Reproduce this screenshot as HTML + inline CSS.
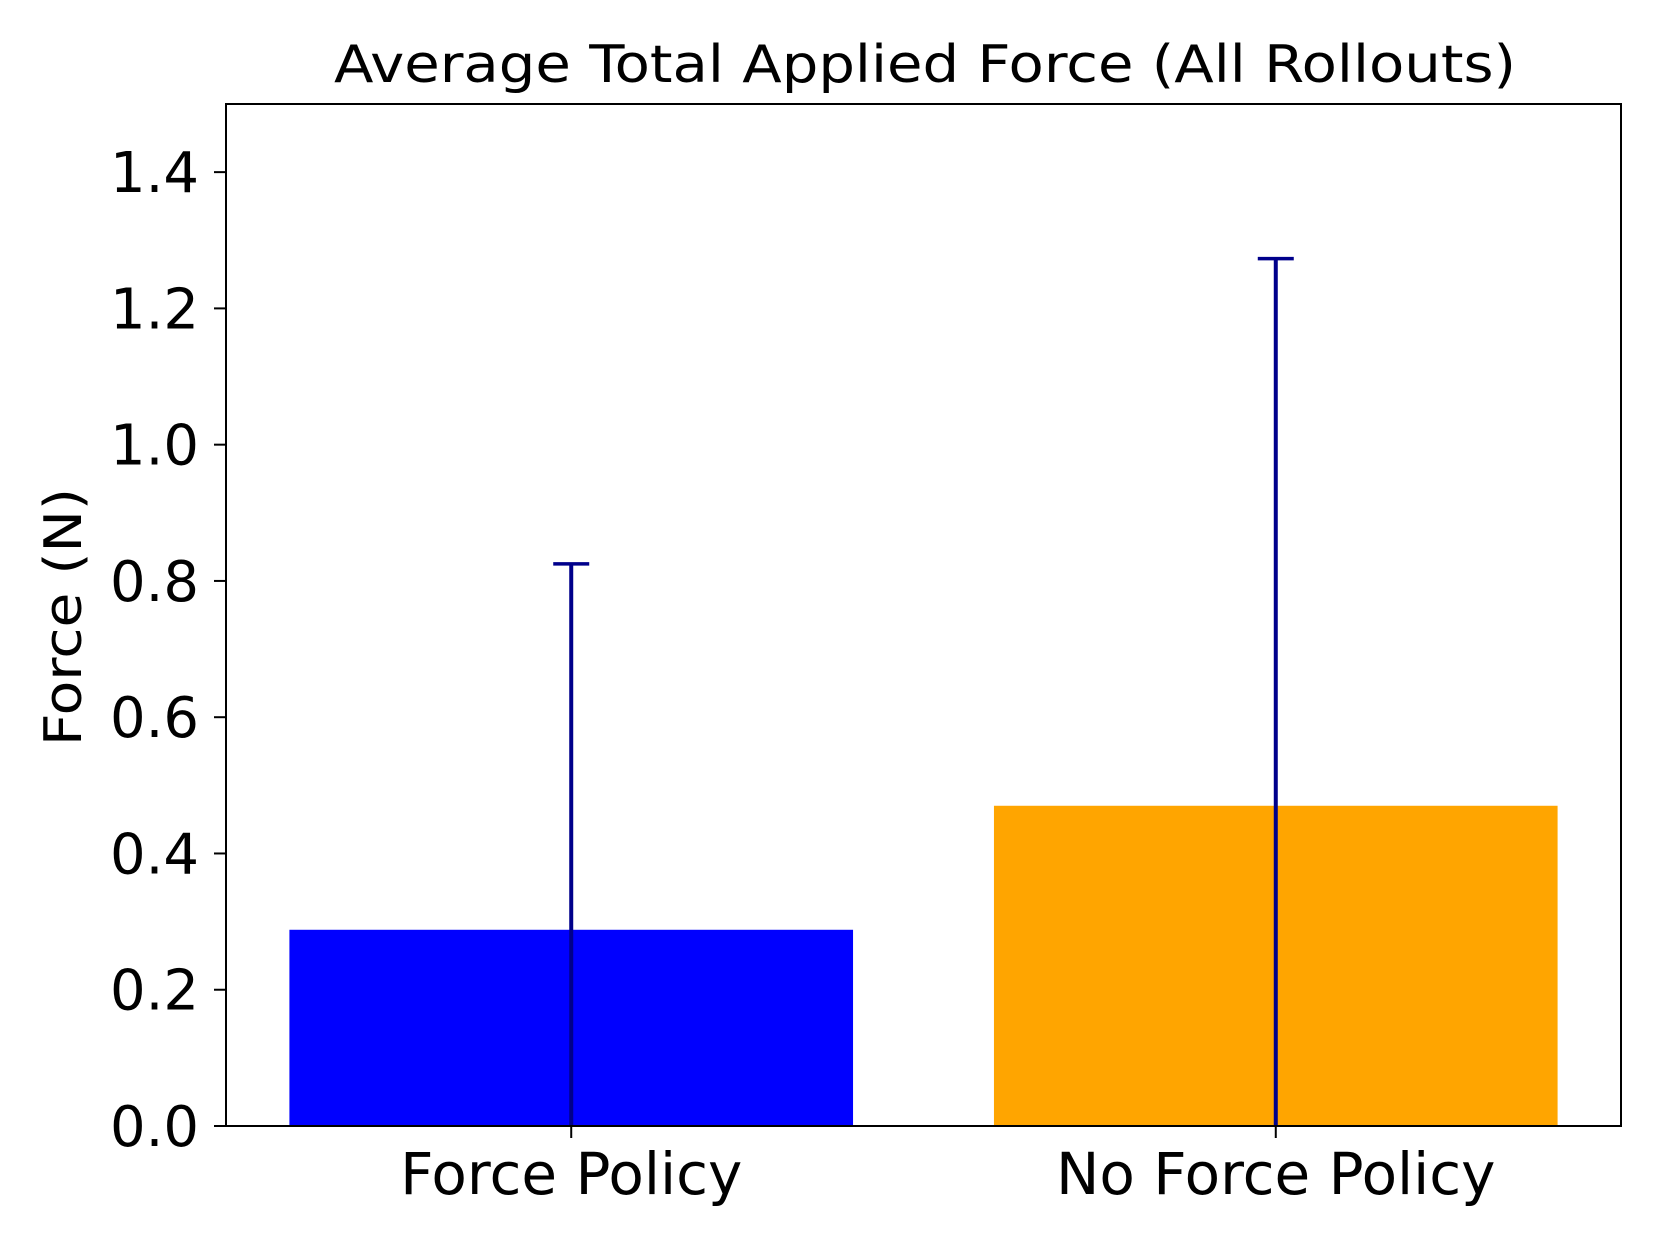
<!DOCTYPE html>
<html><head><meta charset="utf-8"><style>
html,body{margin:0;padding:0;background:#fff;}
svg{display:block;font-family:"DejaVu Sans","Liberation Sans",sans-serif;}
</style></head><body>
<svg id="chart" width="1660" height="1245" viewBox="0 0 1660 1245" xmlns="http://www.w3.org/2000/svg">
<rect width="1660" height="1245" fill="#fff"/>
<text x="925" y="82" font-size="52" text-anchor="middle" textLength="1182" lengthAdjust="spacingAndGlyphs">Average Total Applied Force (All Rollouts)</text>
<text transform="translate(81,617) rotate(-90)" font-size="52" text-anchor="middle" textLength="258" lengthAdjust="spacingAndGlyphs">Force (N)</text>
<g id="plot"></g>
<rect x="226" y="104" width="1395" height="1022" fill="none" stroke="#000" stroke-width="2"/>
</svg>
<script>
const categories = ["Force Policy", "No Force Policy"];
const values = [0.288, 0.470];
const errors = [0.537, 0.803];
const colors = ["#0000ff", "#ffa500"];
const yTicks = [0, 0.2, 0.4, 0.6, 0.8, 1.0, 1.2, 1.4];
const yTickLabels = ["0.0","0.2","0.4","0.6","0.8","1.0","1.2","1.4"];

const L=226,R=1621,T=104,B=1126;
const xMin=-0.49,xMax=1.49,yMin=0,yMax=1.5;
const xs=v=>L+(v-xMin)/(xMax-xMin)*(R-L);
const ys=v=>B-(v-yMin)/(yMax-yMin)*(B-T);
const NS="http://www.w3.org/2000/svg";
const g=document.getElementById('plot');
function mk(tag,attrs){const e=document.createElementNS(NS,tag);for(const k in attrs)e.setAttribute(k,attrs[k]);g.appendChild(e);return e;}
const bw=0.8;
categories.forEach((c,i)=>{
  const r=mk('rect',{x:xs(i-bw/2),y:ys(values[i]),width:xs(i+bw/2)-xs(i-bw/2),height:ys(0)-ys(values[i]),fill:colors[i]});
  
  
});
categories.forEach((c,i)=>{
  const lo=Math.max(0,values[i]-errors[i]),hi=values[i]+errors[i];
  const l=mk('line',{x1:xs(i),x2:xs(i),y1:ys(lo),y2:ys(hi),stroke:'#00008b','stroke-width':4});
  
  
  const cap=mk('line',{x1:xs(i)-18,x2:xs(i)+18,y1:ys(hi),y2:ys(hi),stroke:'#00008b','stroke-width':3.5});
  
  
  const tk=mk('line',{x1:xs(i),x2:xs(i),y1:B,y2:B+12,stroke:'#000','stroke-width':2});
  
  
  const t=mk('text',{x:xs(i),y:1194,'font-size':58,'text-anchor':'middle'});
  t.textContent=c;
  
  
});
yTicks.forEach((v,i)=>{
  const tk=mk('line',{x1:L-12,x2:L,y1:ys(v),y2:ys(v),stroke:'#000','stroke-width':2});
  
  
  const t=mk('text',{x:199,y:ys(v)+20,'font-size':56,'text-anchor':'end'});
  t.textContent=yTickLabels[i];
  
  
});
</script>
</body></html>
